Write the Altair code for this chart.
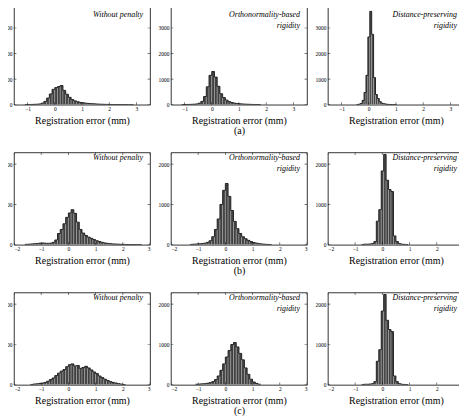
import altair as alt
import pandas as pd
import numpy as np

FONT = "Liberation Serif"

# ---- data (histogram counts) ----
# row (a)
a1_first, a1_bw = -1.05, 0.1
a1_counts = [5, 10, 12, 15, 20, 30, 60, 130, 260, 420, 600, 670, 710, 750, 560, 410, 290, 200,
             150, 115, 90, 75, 60, 50, 42, 35, 28, 22, 18, 15, 12, 10, 9, 8, 7, 6, 5, 5, 4, 3]
a2_first, a2_bw = -1.05, 0.1
a2_counts = [8, 10, 12, 15, 20, 30, 60, 130, 320, 700, 1150, 1300, 1080, 720, 430, 280, 180, 120,
             85, 60, 45, 35, 28, 22, 17, 13, 10, 8, 5]
a3_first, a3_bw = -0.415, 0.07
a3_counts = [10, 20, 50, 170, 480, 1150, 2650, 3650, 2750, 1060, 400, 240, 120, 60, 40, 25, 15,
             10, 8, 6, 5]
# row (b)
b1_first, b1_bw = -1.55, 0.1
b1_counts = [10, 15, 20, 25, 30, 40, 45, 40, 35, 40, 60, 120, 280, 380, 520, 680, 790, 870, 780,
             560, 380, 290, 230, 190, 160, 130, 100, 80, 60, 45, 35, 28, 22, 18, 15, 12, 10, 8,
             7, 6, 5, 5, 4]
b2_first, b2_bw = -1.25, 0.1
b2_counts = [10, 15, 20, 25, 30, 40, 60, 100, 200, 380, 640, 1000, 1350, 1520, 1200, 850, 580,
             400, 280, 200, 150, 110, 80, 55, 40, 28, 20, 14, 10, 6]
b3_first, b3_bw = -0.715, 0.09
b3_counts = [10, 15, 15, 20, 30, 80, 585, 870, 1830, 2240, 1600, 1370, 1320, 220, 80, 30, 15, 10, 8]
# row (c)
c1_first, c1_bw = -1.35, 0.1
c1_counts = [10, 20, 25, 35, 45, 60, 90, 130, 170, 230, 290, 340, 380, 450, 500, 520, 470, 480,
             410, 430, 460, 420, 370, 320, 280, 220, 180, 140, 110, 80, 60, 45, 30, 18, 8]
c2_first, c2_bw = -1.05, 0.1
c2_counts = [15, 20, 25, 30, 40, 55, 80, 130, 220, 360, 520, 690, 850, 1000, 1050, 940, 780, 620,
             420, 260, 140, 70, 35, 15]
c3_first, c3_bw = -0.715, 0.09
c3_counts = [10, 15, 15, 20, 30, 80, 585, 870, 1830, 2240, 1600, 1370, 1320, 220, 80, 30, 15, 10, 8]

panel_labels = ["Without penalty", ["Orthonormality-based", "rigidity"], ["Distance-preserving", "rigidity"]]
x_title = "Registration error (mm)"
row_captions = ["(a)", "(b)", "(c)"]

row_a_xdomain, row_a_xticks = [-1.5, 3.5], [-1, 0, 1, 2, 3]
row_a_ydomain, row_a_yticks = [0, 4000], [0, 1000, 2000, 3000, 4000]
row_bc_xdomain, row_bc_xticks = [-2, 3], [-2, -1, 0, 1, 2, 3]
row_bc_ydomain, row_bc_yticks = [0, 2290], [0, 1000, 2000]


def panel(first, bw, counts, xdom, xticks, ydom, yticks, w, h, label, title, text_y):
    n = len(counts)
    centers = first + bw * np.arange(n)
    df = pd.DataFrame({"x": centers - bw / 2, "x2": centers + bw / 2, "c": counts, "base": 0})
    xs = alt.Scale(domain=xdom, nice=False, zero=False)
    ys = alt.Scale(domain=ydom, nice=False, zero=False)
    xax = alt.Axis(values=xticks, format="d", title=title)
    yax = alt.Axis(values=yticks, format="d", title=None)
    bars = alt.Chart(df).mark_rect(fill="#404040", stroke="#d4d4d4", strokeWidth=0.35, clip=True).encode(
        x=alt.X("x:Q", scale=xs, axis=xax),
        x2="x2:Q",
        y=alt.Y("c:Q", scale=ys, axis=yax),
        y2="base:Q",
    )
    odf = pd.DataFrame({"e": list(df["x"]) + [df["x2"].iloc[-1]], "c": list(counts) + [counts[-1]]})
    outline = alt.Chart(odf).mark_line(interpolate="step-after", color="black", strokeWidth=0.8, clip=True).encode(
        x=alt.X("e:Q", scale=xs, axis=xax),
        y=alt.Y("c:Q", scale=ys, axis=yax),
    )
    xt = pd.DataFrame({"t": xticks})
    yt = pd.DataFrame({"t": yticks})
    tk = dict(color="black", thickness=0.7, size=5, clip=True)
    tb = alt.Chart(xt).mark_tick(orient="vertical", **tk).encode(x=alt.X("t:Q", scale=xs, axis=xax), y=alt.value(h))
    tt = alt.Chart(xt).mark_tick(orient="vertical", **tk).encode(x=alt.X("t:Q", scale=xs, axis=xax), y=alt.value(0))
    tl = alt.Chart(yt).mark_tick(orient="horizontal", **tk).encode(y=alt.Y("t:Q", scale=ys, axis=yax), x=alt.value(0))
    tr = alt.Chart(yt).mark_tick(orient="horizontal", **tk).encode(y=alt.Y("t:Q", scale=ys, axis=yax), x=alt.value(w))
    txt = alt.Chart(pd.DataFrame({"k": [0]})).mark_text(
        text=label, align="right", baseline="top", font=FONT, fontStyle="italic",
        fontSize=8, lineHeight=11, color="black"
    ).encode(x=alt.value(w - 7), y=alt.value(text_y))
    return alt.layer(bars, outline, tb, tt, tl, tr, txt).properties(width=w, height=h)


def row(data, xdom, xticks, ydom, yticks, h, caption, text_y):
    panels = []
    for i, (first, bw, counts) in enumerate(data):
        title = [x_title, caption] if i == 1 else x_title
        panels.append(panel(first, bw, counts, xdom, xticks, ydom, yticks, 137, h,
                            panel_labels[i], title, text_y))
    return panels


panels = []
panels += row([(a1_first, a1_bw, a1_counts), (a2_first, a2_bw, a2_counts), (a3_first, a3_bw, a3_counts)],
              row_a_xdomain, row_a_xticks, row_a_ydomain, row_a_yticks, 103, row_captions[0], 9)
panels += row([(b1_first, b1_bw, b1_counts), (b2_first, b2_bw, b2_counts), (b3_first, b3_bw, b3_counts)],
              row_bc_xdomain, row_bc_xticks, row_bc_ydomain, row_bc_yticks, 93, row_captions[1], 1.5)
panels += row([(c1_first, c1_bw, c1_counts), (c2_first, c2_bw, c2_counts), (c3_first, c3_bw, c3_counts)],
              row_bc_xdomain, row_bc_xticks, row_bc_ydomain, row_bc_yticks, 93, row_captions[2], 1.5)

chart = alt.concat(*panels, columns=3, spacing={"row": 48, "column": 21}, bounds="flush").resolve_scale(
    x="independent", y="independent"
).properties(
    padding={"left": -8, "top": -10, "right": -6, "bottom": 4},
    background="white",
).configure_view(
    stroke="black", strokeWidth=0.8
).configure_axis(
    labelFont=FONT, labelFontSize=5.5, labelColor="black", labelPadding=2,
    titleFont=FONT, titleFontSize=10, titleFontWeight="normal", titleColor="black",
    titlePadding=3, titleLineHeight=10,
    ticks=False, tickSize=0, domain=False, grid=False,
)

chart.save("out.html", embed_options={"renderer": "svg", "actions": False})
